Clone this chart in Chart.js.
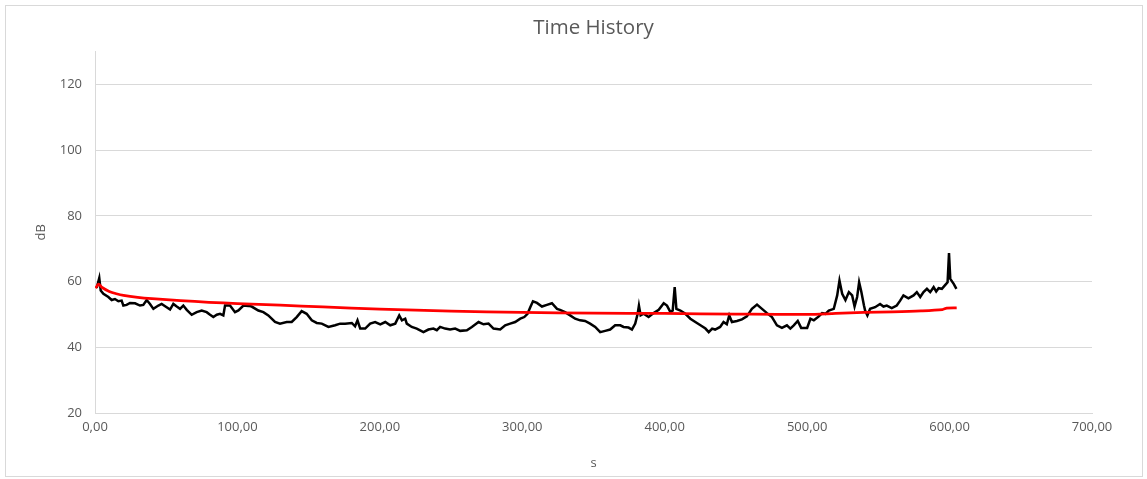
<!DOCTYPE html>
<html>
<head>
<meta charset="utf-8">
<script src="https://cdn.jsdelivr.net/npm/chart.js@4.4.1/dist/chart.umd.min.js"></script>
<style>
	html, body { margin: 0; padding: 0; background: #fff; }
	#frame { position: absolute; left: 5px; top: 5px; width: 1136px; height: 470px; border: 1px solid #d9d9d9; }
	#wrap { position: absolute; left: 0; top: 0; width: 1147px; height: 479px; }
</style>
</head>
<body>
<div id="frame"></div>
<div id="wrap"><canvas id="myChart" width="1147" height="479"></canvas></div>
<script>
// measured level (black)
var levelTime = [1.2, 3, 4, 5.9, 9.4, 11.7, 14, 16.4, 18.7, 19.9, 22.2, 24.6, 28.1, 31.6, 33.9, 36.3, 38.6, 41, 44.5, 46.8,
	50.3, 52.7, 55, 57.4, 59.7, 62, 64.4, 67.9, 71.4, 74.9, 78.4, 80.8, 83.1, 85.5, 87.8, 90.1, 91.3, 94.8, 98.3, 100.7,
	104.2, 107.7, 110, 114.7, 118.2, 121.7, 126.4, 129.9, 134.6, 138.1, 141.6, 145.1, 148.6, 152.2, 155.7, 159.2, 163.9, 168.6, 172.1, 175.6,
	180.3, 182.6, 184.3, 186.2, 189.7, 193.2, 196.7, 200.3, 203.8, 207.3, 210.8, 213.6, 215.5, 217.8, 218.9, 222.4, 225.9, 230.6, 234.1, 237.6,
	240, 242.3, 245.8, 249.3, 252.9, 256.4, 261.1, 264.6, 269.3, 272.8, 276.3, 279.8, 284.5, 288, 291.5, 295, 298.6, 301.4, 303.7, 305.6,
	307.5, 310.3, 313.8, 317.3, 320.8, 324.4, 326.5, 330, 333.6, 337.1, 340.6, 344.1, 347.6, 351.2, 354.7, 358.2, 361.7, 365.2, 368.8, 371.1,
	374.6, 377, 379.3, 381, 381.9, 383.1, 385.2, 388.7, 392.2, 395.8, 399.3, 401.6, 404, 405.6, 407, 408.2, 411, 414.5, 418, 421.5,
	425.1, 428.6, 430.9, 433.3, 435.4, 438.9, 441.3, 443.6, 445.3, 447.2, 450.7, 454.2, 457.7, 461.2, 464.8, 468.3, 471.8, 475.3, 478.8, 482.3,
	485.8, 488.2, 490.6, 493.4, 495.8, 500, 502.3, 504.7, 508.2, 510.5, 512.9, 515.2, 518.7, 521.1, 522.7, 524.6, 526.9, 529.3, 531.6, 533.3,
	535.1, 536.5, 538, 539.9, 540.7, 542.3, 544.2, 547.7, 551.2, 553.6, 555.9, 559.4, 562.9, 565.3, 567.6, 571.1, 574.7, 577, 579.4, 581.7,
	584.1, 586.4, 588.8, 590.6, 592.3, 594.6, 597, 598.6, 599.6, 600.5, 602.9, 604.8];
var levelDb = [58.1, 61.1, 57.3, 56.3, 55.3, 54.4, 54.7, 54, 54.2, 52.7, 52.9, 53.5, 53.4, 52.7, 52.9, 54.4, 53.2, 51.7, 52.7, 53.2,
	52.2, 51.5, 53.2, 52.4, 51.7, 52.7, 51.4, 49.9, 50.7, 51.2, 50.7, 49.9, 49.2, 49.9, 50.2, 49.7, 52.7, 52.7, 50.7, 51.2,
	52.7, 52.6, 52.4, 51.2, 50.7, 49.7, 47.7, 47.2, 47.7, 47.7, 49.2, 51, 50.2, 48.2, 47.4, 47.2, 46.2, 46.7, 47.2, 47.2,
	47.4, 46.4, 48.2, 45.7, 45.7, 47.2, 47.7, 47, 47.7, 46.7, 47.2, 49.7, 48.2, 48.7, 47.2, 46.2, 45.7, 44.6, 45.4, 45.7,
	45.2, 46.2, 45.7, 45.4, 45.7, 45, 45.2, 46.2, 47.7, 47, 47.2, 45.7, 45.4, 46.7, 47.2, 47.7, 48.7, 49.2, 50.2, 52.2,
	54, 53.5, 52.4, 52.9, 53.4, 51.7, 51.4, 50.7, 49.7, 48.7, 48.2, 48, 47.2, 46.2, 44.6, 45, 45.4, 46.7, 46.7, 46.2,
	46, 45.4, 47.2, 50.2, 52.7, 49.7, 50.2, 49.2, 50.4, 51.4, 53.4, 52.7, 50.7, 51.2, 58.3, 51.7, 51.2, 50.2, 48.7, 47.7,
	46.7, 45.7, 44.6, 45.7, 45.4, 46.2, 47.7, 47, 49.7, 47.7, 48, 48.5, 49.4, 51.7, 53, 51.7, 50.4, 49.2, 46.7, 45.9,
	46.7, 45.7, 46.7, 48, 45.9, 45.9, 48.7, 48.2, 49.4, 50.4, 50.2, 51.2, 51.7, 55.8, 60.3, 56.3, 54.4, 56.8, 55.8, 52.4,
	55.3, 59.8, 57, 52.7, 51.2, 49.7, 51.7, 52.2, 53.2, 52.4, 52.7, 51.9, 52.7, 54.2, 55.8, 54.9, 55.8, 56.8, 55.3, 56.8,
	57.8, 56.8, 58.3, 57, 58, 57.8, 59, 59.8, 68.7, 60.8, 59.3, 57.8];

// running average (red)
var avgTime = [0.5, 2.5, 5, 10, 15, 20, 30, 40, 60, 80, 100, 130, 160, 200, 250, 300, 350, 400, 450, 500,
	520, 540, 560, 580, 595, 598, 605];
var avgDb = [58, 59.2, 58.2, 57, 56.3, 55.8, 55.2, 54.8, 54.2, 53.7, 53.3, 52.8, 52.3, 51.6, 51, 50.6, 50.4, 50.3, 50.1, 50,
	50.3, 50.6, 50.8, 51.1, 51.5, 51.9, 52];

var yTicks = [20, 40, 60, 80, 100, 120];

function toPoints(t, v) {
	var pts = [];
	for (var i in t) {
		pts.push({x: t[i], y: v[i]});
	}
	return pts;
}

var grey = '#595959';
var fontFam = "'Open Sans', 'Liberation Sans', sans-serif";

var ctx = document.getElementById('myChart');
var chart = new Chart(ctx, {
	type: 'line',
	data: {
		datasets: [
			{
				label: 'Leq',
				data: toPoints(avgTime, avgDb),
				borderColor: '#ff0000',
				borderWidth: 2.75,
				pointRadius: 0,
				tension: 0.3,
				fill: false
			},
			{
				label: 'L',
				data: toPoints(levelTime, levelDb),
				borderColor: '#000000',
				borderWidth: 2.5,
				pointRadius: 0,
				tension: 0,
				fill: false
			}
		]
	},
	options: {
		responsive: false,
		animation: false,
		layout: { padding: { left: 0, right: 55, top: 0, bottom: 0 } },
		plugins: {
			legend: { display: false },
			tooltip: { enabled: false },
			title: {
				display: true,
				fullSize: false,  // centre over the plot area, not the whole canvas
				text: 'Time History',
				color: grey,
				font: { family: fontFam, size: 20.5, weight: 'normal' },
				padding: { top: 16, bottom: 11 }
			}
		},
		scales: {
			x: {
				type: 'linear',
				min: 0,
				max: 700,
				afterFit: function(scale) { scale.height = 66; },
				ticks: {
					stepSize: 100,
					color: grey,
					font: { family: fontFam, size: 13 },
					padding: 6,
					maxRotation: 0,
					callback: function(v) { return v.toFixed(2).replace('.', ','); }
				},
				grid: { display: false, drawTicks: false },
				border: { display: true, color: '#d9d9d9', width: 1 },
				title: {
					display: true,
					text: 's',
					color: grey,
					font: { family: fontFam, size: 13 },
					padding: { top: 0, bottom: 8 }
				}
			},
			y: {
				min: 20,
				max: 130,
				afterFit: function(scale) { scale.width = 95; },
				afterBuildTicks: function(scale) {
					scale.ticks = yTicks.map(function(v) { return {value: v}; });
				},
				ticks: {
					color: grey,
					font: { family: fontFam, size: 13 },
					padding: 13
				},
				grid: { color: '#d9d9d9', lineWidth: 1, drawTicks: false },
				border: { display: true, color: '#d9d9d9', width: 1 },
				title: {
					display: true,
					text: 'dB',
					color: grey,
					font: { family: fontFam, size: 13 },
					padding: { top: 33, bottom: 0 }
				}
			}
		}
	}
});
</script>
</body>
</html>
